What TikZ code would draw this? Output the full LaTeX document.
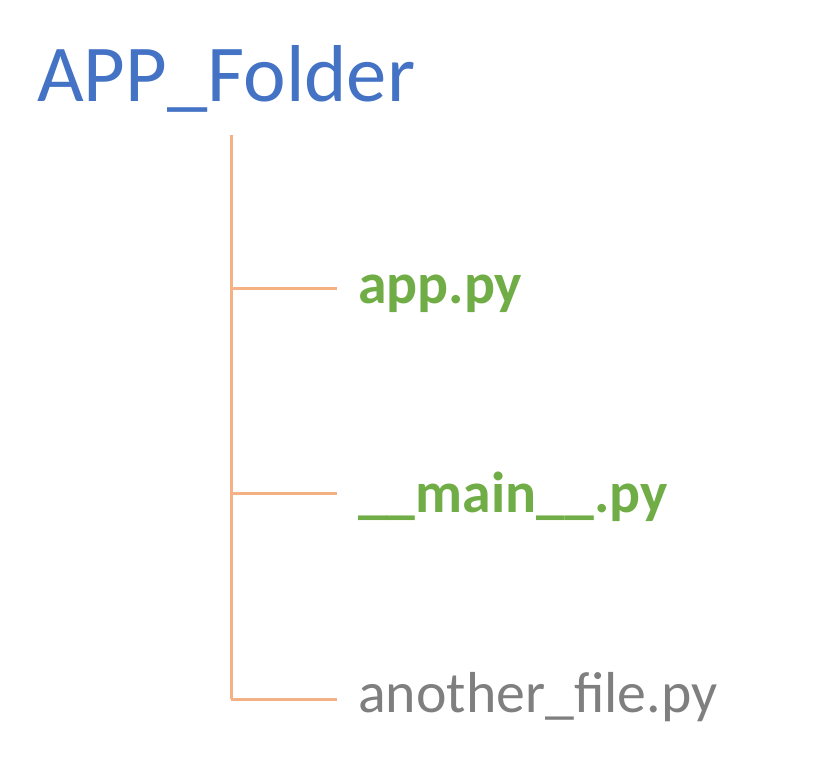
\documentclass[tikz,border=0pt]{standalone}
\usepackage{fontspec}
\setmainfont{Carlito}
\usepackage{tikz}

\definecolor{folderblue}{HTML}{4472C4}
\definecolor{filegreen}{HTML}{70AD47}
\definecolor{filegray}{HTML}{7F7F7F}
\definecolor{treeorange}{HTML}{F4B183}

\tikzset{
  branch/.style = {line width = 3bp, treeorange},
  mainfile/.style = {inner sep = 0, anchor = base west, filegreen, font = \fontsize{58}{68}\selectfont\bfseries},
  otherfile/.style = {inner sep = 0, anchor = base west, filegray, font = \fontsize{58}{68}\selectfont}
}

\begin{document}
\begin{tikzpicture}[x = 1bp, y = -1bp]
  \useasboundingbox (0, 0) rectangle (818, 769);

  \node[inner sep = 0, anchor = base west, folderblue, font = \fontsize{81}{96}\selectfont] (folder) at (37, 101) {APP\_Folder};

  \coordinate (root) at (231, 135);
  \coordinate (j1) at (231, 288);
  \coordinate (j2) at (231, 493);
  \coordinate (j3) at (231, 699);
  \coordinate (e1) at (337, 288);
  \coordinate (e2) at (337, 493);
  \coordinate (e3) at (337, 699);

  \draw[branch] (root)--(j3);
  \draw[branch] (j1)--(e1);
  \draw[branch] (j2)--(e2);
  \draw[branch] (j3)--(e3);

  \node[mainfile] (app) at (358, 303) {app.py};
  \node[mainfile] (main) at (358, 512) {\_\_main\_\_.py};
  \node[otherfile] (other) at (358, 712) {another\_file.py};
\end{tikzpicture}
\end{document}
